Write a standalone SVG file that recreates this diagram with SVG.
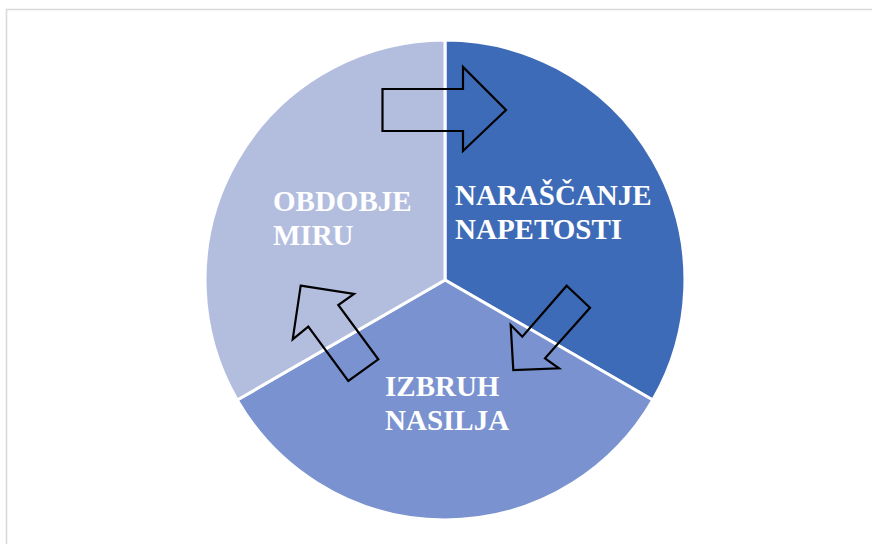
<svg xmlns="http://www.w3.org/2000/svg" width="872" height="544" viewBox="0 0 872 544">
<style>
.seg{stroke:#ffffff;stroke-width:3;stroke-linejoin:round}
.lbl{font-family:"Liberation Serif","Times New Roman",serif;font-weight:bold;font-size:29px;fill:#ffffff}
.arr{fill:none;stroke:#000000;stroke-width:2.2;stroke-linejoin:miter}
</style>
<rect x="0" y="0" width="872" height="544" fill="#ffffff"/>
<path d="M6.5 544 V9.5 H872" fill="none" stroke="#d9d9d9" stroke-width="1.6"/>
<g id="segment-napetost">
<path class="seg" d="M445 280 L445 40 A240 240 0 0 1 652.8 400 Z" fill="#3E6BB7"/>
</g>
<g id="segment-nasilje">
<path class="seg" d="M445 280 L652.8 400 A240 240 0 0 1 237.2 400 Z" fill="#7A92CF"/>
</g>
<g id="segment-mir">
<path class="seg" d="M445 280 L237.2 400 A240 240 0 0 1 445 40 Z" fill="#B3BEDF"/>
</g>
<g id="label-napetost"><text class="lbl" x="455" y="205">NARAŠČANJE</text><text class="lbl" x="455" y="239">NAPETOSTI</text></g>
<g id="label-nasilje"><text class="lbl" x="385" y="396">IZBRUH</text><text class="lbl" x="385" y="430">NASILJA</text></g>
<g id="label-mir"><text class="lbl" x="273" y="211">OBDOBJE</text><text class="lbl" x="273" y="245">MIRU</text></g>
<g id="connectors">
<polygon class="arr" points="382.5,89 463,89 463,67 506,110 463,151 463,131 382.5,131"/>
<polygon class="arr" points="566.7,285.7 590,307.7 545,358.3 559,368.3 513.3,370 510.7,325 522.3,336.7"/>
<polygon class="arr" points="300.7,285.7 354,294 338.3,305 378.3,359.3 348.3,381 308.3,326.7 292.7,339.3"/>
</g>
</svg>
